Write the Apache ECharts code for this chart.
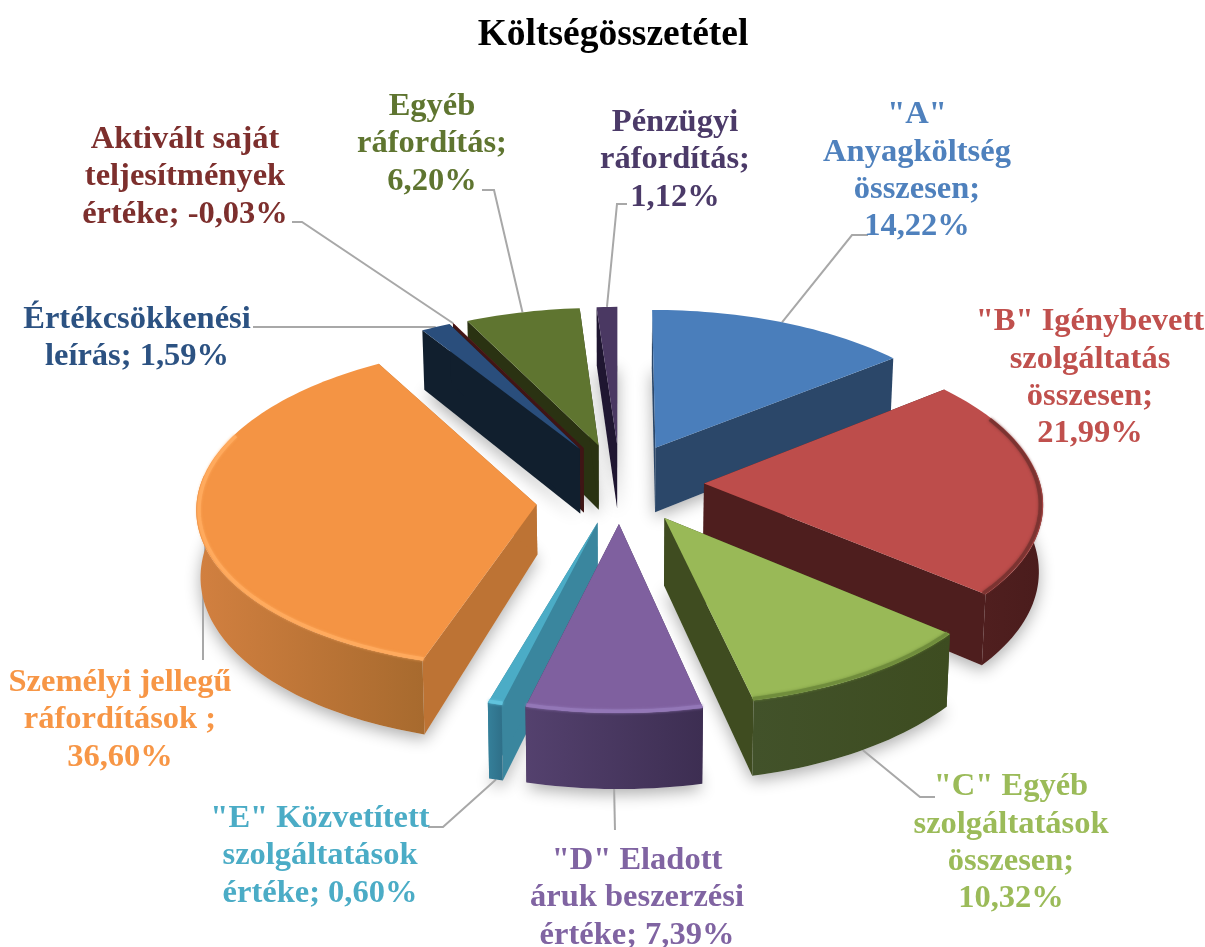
<!DOCTYPE html>
<html><head><meta charset="utf-8">
<style>html,body{margin:0;padding:0;background:#fff}#c{width:1205px;height:947px}</style>
<script src="https://cdn.jsdelivr.net/npm/echarts@6/dist/echarts.min.js"></script>
</head><body><div id="c"></div>
<script>
// ---- data ----
const categories = ['"A"\nAnyagköltség\nösszesen;\n','"B" Igénybevett\nszolgáltatás\nösszesen;\n','"C" Egyéb\nszolgáltatások\nösszesen;\n','"D" Eladott\náruk beszerzési\nértéke; ','"E" Közvetített\nszolgáltatások\nértéke; ','Személyi jellegű\nráfordítások ;\n','Értékcsökkenési\nleírás; ','Aktivált saját\nteljesítmények\nértéke; ','Egyéb\nráfordítás;\n','Pénzügyi\nráfordítás;\n'];
const values = [14.22,21.99,10.32,7.39,0.60,36.60,1.59,-0.03,6.20,1.12];
// ---- styles ----
const topColors  = ['#4a7ebb','#bd4d4b','#99b957','#7f609f','#4bacc6','#f49444','#2a4e7c','#772c2a','#5f7530','#4a3862'];
const wallColors = ['#2b4769','#4e1e1e','#3f4c20','#443457','#3a869e','#bd7334','#111f2e','#3f1515','#2a3212','#1f1631'];
const arcFrom    = ['#2b4769','#501f1f','#42522a','#54416e','#35809a','#d28040','#111f2e','#3f1515','#2a3212','#1f1631'];
const arcTo      = ['#2b4769','#4a1c1c','#3d4c20','#3d2e52','#2f6f88','#a76a2e','#111f2e','#3f1515','#2a3212','#1f1631'];
const rimColors  = ['#4a7ebb','#7a3331','#6f8c3c','#9478b8','#62c4de','#ffab5e','#2a4e7c','#772c2a','#5f7530','#4a3862'];
const labelColors= ['#4f81bd','#c0504d','#9bbb59','#8064a2','#4bacc6','#f79646','#2c5282','#7d2f2d','#5f7530','#4b3a68'];
const labelPos = [[917,171],[1090,378],[1011,843],[637,898],[320,856],[120,720],[137,338],[185,177],[432,144],[675,160]];
const leaderPts = [[[852,235],[868,235]],[],[[920,797],[935,797]],[[615,830]],[[443,827],[428,827]],[[203,600],[203,660]],[[253,327]],[[302,222],[292,222]],[[494,190],[482,190]],[[617,204],[627,204]]];
const leaderFromBase = [false,false,true,true,true,false,false,false,false,false];
const leaderR = [1,1,1,1,1,0.97,1,1,1,1];
const apexNudge = [0,0,0,0,0,16,0,0,0,0];
// ---- projection constants ----
const CX=620, CY=483, RX=336, RY=159.6, P=0.106, EXPL=0.25, DEPTH=66, SQUEEZE=0.01;
const RIM0=Math.PI*65/180, RIM1=Math.PI*290/180;
const total = values.reduce((a,v)=>a+Math.abs(v),0);
const starts=[]; { let c=0; values.forEach(v=>{starts.push(c/total*Math.PI*2); c+=Math.abs(v);}); }
const spans = values.map(v=>Math.abs(v)/total*Math.PI*2);
function project(u,v,h){ const s=1/(1-P*v); return [CX+RX*u*s*(1-SQUEEZE*h), CY+RY*v*s+h*DEPTH*s]; }
function sliceGeo(i){
  const a0=starts[i], a1=a0+spans[i], m=a0+spans[i]/2;
  const ou=EXPL*Math.sin(m), ov=-EXPL*Math.cos(m);
  const pt=(a,r,h)=>project(ou+r*Math.sin(a), ov-r*Math.cos(a), h);
  return {a0,a1,m,ou,ov,pt};
}
function arc(g,a,b,h,r){ const n=Math.max(2,Math.ceil((b-a)/(Math.PI/120))); const o=[]; for(let k=0;k<=n;k++) o.push(g.pt(a+(b-a)*k/n,r===undefined?1:r,h)); return o; }
const order = values.map((_,i)=>i).sort((x,y)=>sliceGeo(x).ov-sliceGeo(y).ov);
const rank = []; order.forEach((i,r)=>rank[i]=r);
const FRONT0=Math.PI*85/180, FRONT1=Math.PI*275/180;

function renderItem(params, api){
  const i=params.dataIndex, g=sliceGeo(i), base=20+rank[i]*10, kids=[];
  const apexB=g.pt(0,0,1);
  const apex0=g.pt(0,0,0);
  const apexT=[apex0[0],apex0[1]+apexNudge[i]];
  const topPts=[apexT].concat(arc(g,g.a0,g.a1,0));
  const botPts=[apexB].concat(arc(g,g.a0,g.a1,1));
  // soft ground shadow
  kids.push({type:'polygon',z2:1,shape:{points:botPts},style:{fill:'#e4e4e4',shadowBlur:16,shadowColor:'rgba(0,0,0,0.32)',shadowOffsetY:5}});
  // leader line
  if(leaderPts[i].length){
    const st=g.pt(g.m,leaderR[i],leaderFromBase[i]?1:0);
    kids.push({type:'polyline',z2:5,shape:{points:[st].concat(leaderPts[i])},style:{fill:null,stroke:'#a8a8a8',lineWidth:2}});
  }
  // radial walls
  [g.a0,g.a1].forEach(a=>{
    const e=g.pt(a,1,0), f=g.pt(a,1,1);
    kids.push({type:'polygon',z2:base+1,shape:{points:[apexT,e,f,apexB]},style:{fill:wallColors[i]}});
  });
  // outer wall, front-facing part only
  const fa=Math.max(g.a0,FRONT0), fb=Math.min(g.a1,FRONT1);
  if(fb>fa){
    kids.push({type:'polygon',z2:base+2,shape:{points:arc(g,fa,fb,0).concat(arc(g,fa,fb,1).reverse())},
      style:{fill:{type:'linear',x:0,y:0,x2:1,y2:0,colorStops:[{offset:0,color:arcFrom[i]},{offset:1,color:arcTo[i]}]}}});
  }
  // top face
  kids.push({type:'polygon',z2:base+3,shape:{points:topPts},style:{fill:topColors[i]}});
  // bevel along the rim, just inside the top face
  const ra=Math.max(g.a0,RIM0), rb=Math.min(g.a1,RIM1);
  if(rb>ra && fb>fa){
    kids.push({type:'polyline',z2:base+4,shape:{points:arc(g,ra,rb,0,0.992)},style:{fill:null,stroke:rimColors[i],lineWidth:3.5,shadowBlur:3,shadowColor:rimColors[i],opacity:0.9,lineCap:'butt'}});
  }
  // label
  const val=values[i].toFixed(2).replace('.',',')+'%';
  kids.push({type:'text',z2:500,style:{text:categories[i]+val,x:labelPos[i][0],y:labelPos[i][1],align:'center',verticalAlign:'middle',font:'bold 32.5px "Liberation Serif"',lineHeight:37.3,fill:labelColors[i]}});
  return {type:'group',children:kids};
}
const chart=echarts.init(document.getElementById('c'),null,{renderer:'canvas'});
chart.setOption({
  animation:false,backgroundColor:'#fff',
  title:{text:'Költségösszetétel',left:608,top:11,textAlign:'center',textStyle:{fontFamily:'Liberation Serif',fontWeight:'bold',fontSize:37.5,color:'#000'}},
  series:[{type:'custom',coordinateSystem:'none',renderItem,data:values.map((v,i)=>[Math.abs(v),i]),silent:true}]
});
</script></body></html>
